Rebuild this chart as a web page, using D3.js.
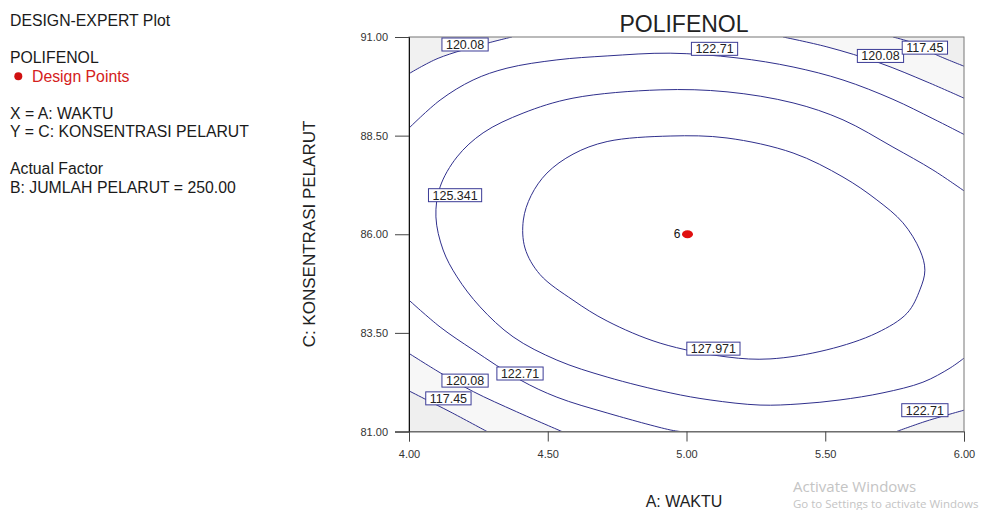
<!DOCTYPE html>
<html>
<head>
<meta charset="utf-8">
<script src="https://cdn.jsdelivr.net/npm/d3@7"></script>
<style>
  body { margin: 0; background: #fff; }
  svg text { font-family: Arial, "Liberation Sans", sans-serif; }
</style>
</head>
<body>
<script>
// Chart values (A: WAKTU on x, C: KONSENTRASI PELARUT on y)
var xTicks = [4.00, 4.50, 5.00, 5.50, 6.00];
var yTicks = [81.00, 83.50, 86.00, 88.50, 91.00];

var designX = [5.00];
var designY = [86.00];
var designCount = ["6"];

// contour traces, [waktu, konsentrasi]
var c117TopRight = [[5.744, 91.0], [5.816, 90.85], [5.903, 90.54], [6.0, 90.26]];
var c120TopRight = [[5.348, 91.0], [5.506, 90.75], [5.697, 90.34], [5.867, 89.86], [6.0, 89.45]];
var c120TopLeft = [[4.0, 90.07], [4.105, 90.46], [4.281, 90.84], [4.371, 91.0]];
var c122Top = [[4.0, 88.69], [4.112, 89.40], [4.231, 89.91], [4.353, 90.21], [4.533, 90.42],
  [4.714, 90.52], [4.941, 90.59], [5.182, 90.47], [5.384, 90.24], [5.564, 89.91],
  [5.744, 89.42], [5.888, 88.93], [6.0, 88.53]];
var c125 = [[6.0, 87.10], [5.888, 87.63], [5.744, 88.21], [5.564, 88.90], [5.384, 89.33],
  [5.146, 89.61], [4.905, 89.66], [4.591, 89.45], [4.411, 89.07], [4.267, 88.57],
  [4.173, 87.96], [4.112, 87.20], [4.097, 86.44], [4.123, 85.60], [4.173, 84.92],
  [4.256, 84.16], [4.375, 83.40], [4.533, 82.81], [4.714, 82.38], [4.941, 81.98],
  [5.085, 81.80], [5.265, 81.67], [5.409, 81.70], [5.553, 81.80], [5.708, 81.98],
  [5.852, 82.25], [5.950, 82.61], [6.0, 82.86]];
var c128 = [[4.941, 88.49], [5.146, 88.44], [5.384, 88.06], [5.564, 87.45], [5.686, 86.87],
  [5.780, 86.29], [5.841, 85.60], [5.859, 85.09], [5.841, 84.59], [5.795, 84.00],
  [5.686, 83.50], [5.506, 83.07], [5.301, 82.84], [5.146, 82.89], [4.905, 83.24],
  [4.714, 83.80], [4.591, 84.33], [4.472, 84.98], [4.418, 85.65],
  [4.412, 86.36], [4.440, 86.98], [4.497, 87.55], [4.591, 88.03], [4.714, 88.35]];
var c122LowLeft = [[4.0, 84.33], [4.112, 83.65], [4.231, 83.07], [4.400, 82.31], [4.533, 81.87],
  [4.714, 81.47], [4.941, 81.04], [4.977, 81.0]];
var c120LowLeft = [[4.0, 82.98], [4.112, 82.49], [4.232, 82.01], [4.388, 81.50], [4.551, 81.0]];
var c117LowLeft = [[4.0, 82.03], [4.064, 81.80], [4.148, 81.50], [4.281, 81.0]];
var c122LowRight = [[5.757, 81.0], [5.867, 81.27], [6.0, 81.54]];

var contourLines = [c117TopRight, c120TopRight, c120TopLeft, c122Top, c125,
  c122LowLeft, c120LowLeft, c117LowLeft, c122LowRight];

// contour labels: text and where they sit
var labelText = ["120.08", "122.71", "120.08", "117.45", "125.341", "127.971", "122.71", "120.08", "117.45", "122.71"];
var labelX = [4.202, 5.101, 5.699, 5.859, 4.166, 5.097, 4.400, 4.202, 4.142, 5.859];
var labelY = [90.81, 90.70, 90.52, 90.73, 86.99, 83.10, 82.47, 82.29, 81.84, 81.54];

var infoLines = ["DESIGN-EXPERT Plot", "", "POLIFENOL", "Design Points", "",
  "X = A: WAKTU", "Y = C: KONSENTRASI PELARUT", "", "Actual Factor", "B: JUMLAH PELARUT = 250.00"];

var svgWidth = 996;
var svgHeight = 510;
var plot = { left: 409, right: 964, top: 37, bottom: 431.5 };
var lineColor = "#2f2f8c";

var svg = d3.select("body")
  .append("svg")
  .attr("width", svgWidth)
  .attr("height", svgHeight);

var x = d3.scaleLinear().domain([4, 6]).range([plot.left, plot.right]);
var y = d3.scaleLinear().domain([81, 91]).range([plot.bottom, plot.top]);

svg.append("clipPath").attr("id", "plotclip")
  .append("rect")
  .attr("x", plot.left).attr("y", plot.top)
  .attr("width", plot.right - plot.left).attr("height", plot.bottom - plot.top);

var line = d3.line()
  .x(d => x(d[0]))
  .y(d => y(d[1]))
  .curve(d3.curveCatmullRom.alpha(0.5));

var body = svg.append("g").attr("clip-path", "url(#plotclip)");

// faint shading in the low corners
function cornerArea(pts, cx, cy) {
  return line(pts) + "L" + x(cx) + "," + y(cy) + "Z";
}
var shades = [
  [c120TopLeft, 4, 91, "#f1f1f1"],
  [c120TopRight, 6, 91, "#f7f7f7"],
  [c117TopRight, 6, 91, "#efefef"],
  [c120LowLeft, 4, 81, "#f7f7f7"],
  [c117LowLeft, 4, 81, "#efefef"],
  [c122LowRight, 6, 81, "#f3f3f3"]
];
body.selectAll("path.shade")
  .data(shades)
  .enter()
  .append("path")
  .attr("class", "shade")
  .attr("d", d => cornerArea(d[0], d[1], d[2]))
  .attr("fill", d => d[3]);

body.selectAll("path.contour")
  .data(contourLines)
  .enter()
  .append("path")
  .attr("class", "contour")
  .attr("d", line)
  .attr("fill", "none")
  .attr("stroke", lineColor)
  .attr("stroke-width", 1);

body.append("path")
  .attr("d", d3.line().x(d => x(d[0])).y(d => y(d[1])).curve(d3.curveCatmullRomClosed.alpha(0.5))(c128))
  .attr("fill", "none")
  .attr("stroke", lineColor)
  .attr("stroke-width", 1);

// frame
svg.append("rect")
  .attr("x", plot.left).attr("y", plot.top)
  .attr("width", plot.right - plot.left).attr("height", plot.bottom - plot.top)
  .attr("fill", "none")
  .attr("stroke", "#777")
  .attr("stroke-width", 1);

// axes
var leftAxis = d3.axisLeft(y)
  .tickValues(yTicks)
  .tickFormat(d3.format(".2f"))
  .tickSizeOuter(0)
  .tickSize(14)
  .tickPadding(7);
var bottomAxis = d3.axisBottom(x)
  .tickValues(xTicks)
  .tickFormat(d3.format(".2f"))
  .tickSizeOuter(0)
  .tickSize(10)
  .tickPadding(9);

var gy = svg.append("g")
  .attr("transform", `translate(${plot.left},0)`)
  .call(leftAxis);
var gx = svg.append("g")
  .attr("transform", `translate(0,${plot.bottom})`)
  .call(bottomAxis);
gy.select(".domain").attr("stroke", "#111");
gx.select(".domain").attr("stroke", "#666");
gy.selectAll(".tick line").attr("stroke", "#444");
gx.selectAll(".tick line").attr("stroke", "#444");
svg.selectAll(".tick text")
  .attr("fill", "#333")
  .style("font-size", "11px")
  .style("font-family", "Arial, 'Liberation Sans', sans-serif");

// contour labels
var labels = svg.selectAll("g.clabel")
  .data(labelText)
  .enter()
  .append("g")
  .attr("class", "clabel")
  .attr("transform", (d, i) => `translate(${x(labelX[i])},${y(labelY[i])})`);
labels.append("rect");
labels.append("text")
  .attr("text-anchor", "middle")
  .attr("dy", "0.36em")
  .style("font-size", "12.5px")
  .attr("fill", "#222")
  .text(d => d);
labels.each(function() {
  var g = d3.select(this);
  var w = g.select("text").node().getComputedTextLength();
  g.select("rect")
    .attr("x", -w / 2 - 4).attr("y", -6.5)
    .attr("width", w + 8).attr("height", 13)
    .attr("fill", "#fff")
    .attr("stroke", "#3b3b96")
    .attr("stroke-width", 1);
});

// design point
svg.selectAll("ellipse.dp")
  .data(designX)
  .enter()
  .append("ellipse")
  .attr("class", "dp")
  .attr("cx", d => x(d) + 1)
  .attr("cy", (d, i) => y(designY[i]))
  .attr("rx", 5.5)
  .attr("ry", 4)
  .attr("fill", "#e01010");
svg.selectAll("text.dpcount")
  .data(designCount)
  .enter()
  .append("text")
  .attr("class", "dpcount")
  .attr("x", (d, i) => x(designX[i]) - 6)
  .attr("y", (d, i) => y(designY[i]) + 4)
  .attr("text-anchor", "end")
  .style("font-size", "12px")
  .attr("fill", "#111")
  .text(d => d);

// titles
svg.append("text")
  .attr("x", 684).attr("y", 31.5)
  .attr("text-anchor", "middle")
  .style("font-size", "23px")
  .attr("fill", "#222")
  .text("POLIFENOL");

svg.append("text")
  .attr("transform", "translate(315,234) rotate(-90)")
  .attr("text-anchor", "middle")
  .style("font-size", "17px")
  .attr("fill", "#222")
  .text("C: KONSENTRASI PELARUT");

svg.append("text")
  .attr("x", 684).attr("y", 507)
  .attr("text-anchor", "middle")
  .style("font-size", "16px")
  .attr("fill", "#222")
  .text("A: WAKTU");

// info block on the left
var infoBase = [25.5, 44.5, 63.3, 81.7, 100.5, 119, 137.3, 155.5, 174, 192.7];
svg.selectAll("text.info")
  .data(infoLines)
  .enter()
  .append("text")
  .attr("class", "info")
  .attr("x", (d, i) => i === 3 ? 32 : 10)
  .attr("y", (d, i) => infoBase[i])
  .style("font-size", "15.8px")
  .attr("fill", (d, i) => i === 3 ? "#d42020" : "#1a1a1a")
  .text(d => d);
svg.append("circle")
  .attr("cx", 18.3).attr("cy", 76.2).attr("r", 4)
  .attr("fill", "#d01010");

// watermark
svg.append("text")
  .attr("x", 793).attr("y", 492)
  .style("font-family", "'Open Sans', sans-serif")
  .style("font-size", "15px")
  .attr("fill", "#c4c4c4")
  .text("Activate Windows");
svg.append("text")
  .attr("x", 793).attr("y", 508)
  .style("font-family", "'Open Sans', sans-serif")
  .style("font-size", "11.5px")
  .attr("fill", "#c4c4c4")
  .text("Go to Settings to activate Windows");
</script>
</body>
</html>
